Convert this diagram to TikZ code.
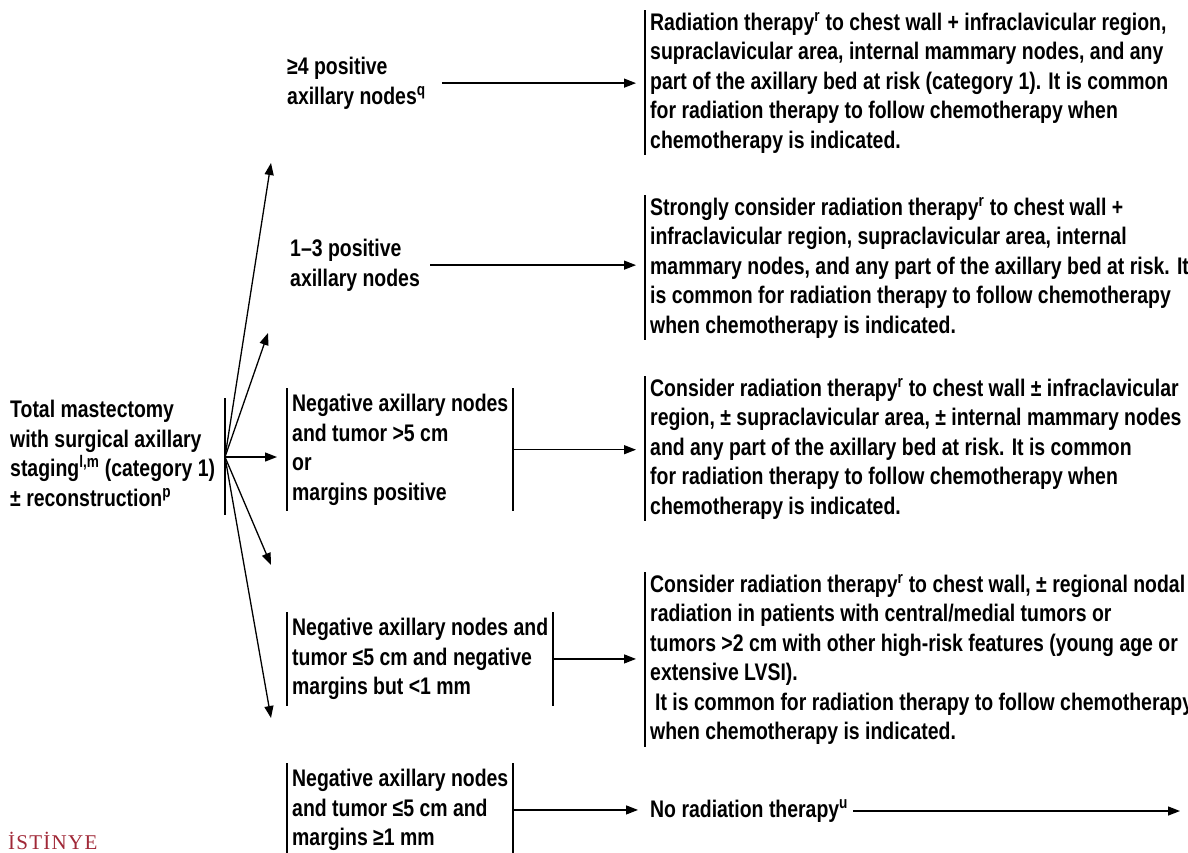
\documentclass[tikz,border=0pt]{standalone}
\usepackage{fontspec}
\newfontfamily\nb[FakeStretch=0.81]{Liberation Sans}
\newfontfamily\istfont[LetterSpace=6]{Liberation Serif}
\usetikzlibrary{arrows.meta,calc}
\definecolor{brand}{RGB}{160,40,55}
\begin{document}
\begin{tikzpicture}[x=1pt,y=-1pt,
  txt/.style={font=\nb\bfseries\fontsize{24}{29.5}\selectfont, align=left, inner sep=0pt, anchor=north west},
  rbox/.style={txt, inner xsep=5pt, inner ysep=2pt},
  mbox/.style={txt, inner xsep=5pt, inner ysep=6pt},
  bar/.style={line width=1.3pt},
  arr/.style={line width=1.3pt, -{Triangle[length=12pt,width=9pt]}}
]
\useasboundingbox (0,0) rectangle (1188,852);

% root
\node[txt] (root) at (10,400) {Total mastectomy\\with surgical axillary\\staging\textsuperscript{l,m} (category 1)\\± reconstruction\textsuperscript{p}};
\coordinate (bartop) at (225,398);
\coordinate (barbot) at (225,515);
\draw[bar] (bartop) -- (barbot);
\coordinate (fan) at (225,457);

% fan tips
\coordinate (t1) at (271,163);
\coordinate (t2) at (268,333);
\coordinate (t4) at (271,565);
\coordinate (t5) at (271,718);

% middle column
\node[txt] (n1) at (287,57) {≥4 positive\\axillary nodes\textsuperscript{q}};
\node[txt] (n2) at (290,239) {1–3 positive\\axillary nodes};
\node[mbox] (m3) at (287,388) {Negative axillary nodes\\and tumor >5 cm\\or\\margins positive};
\node[mbox] (m4) at (287,612) {Negative axillary nodes and\\tumor ≤5 cm and negative\\margins but <1 mm};
\node[mbox] (m5) at (287,763) {Negative axillary nodes\\and tumor ≤5 cm and\\margins ≥1 mm};
\coordinate (m3r) at (513,0);
\coordinate (m4r) at (553,0);
\coordinate (m5r) at (513,0);
\foreach \m in {m3,m4,m5}{
  \draw[bar] (\m.north west) -- (\m.south west);
  \draw[bar] (\m.north west -| \m r) -- (\m.south west -| \m r);
}

% right column
\node[rbox] (r1) at (645,10) {Radiation therapy\textsuperscript{r} to chest wall + infraclavicular region,\\supraclavicular area, internal mammary nodes, and any\\part of the axillary bed at risk (category 1). It is common\\for radiation therapy to follow chemotherapy when\\chemotherapy is indicated.};
\node[rbox] (r2) at (645,195) {Strongly consider radiation therapy\textsuperscript{r} to chest wall +\\infraclavicular region, supraclavicular area, internal\\mammary nodes, and any part of the axillary bed at risk. It\\is common for radiation therapy to follow chemotherapy\\when chemotherapy is indicated.};
\node[rbox] (r3) at (645,376) {Consider radiation therapy\textsuperscript{r} to chest wall ± infraclavicular\\region, ± supraclavicular area, ± internal mammary nodes\\and any part of the axillary bed at risk. It is common\\for radiation therapy to follow chemotherapy when\\chemotherapy is indicated.};
\node[rbox] (r4) at (645,572) {Consider radiation therapy\textsuperscript{r} to chest wall, ± regional nodal\\radiation in patients with central/medial tumors or\\tumors >2 cm with other high-risk features (young age or\\extensive LVSI).\\\hspace*{5pt}It is common for radiation therapy to follow chemotherapy\\when chemotherapy is indicated.};
\node[txt, anchor=west] (r5) at (650,811) {No radiation therapy\textsuperscript{u}};
\foreach \r in {r1,r2,r3,r4}{
  \draw[bar] (\r.north west) -- (\r.south west);
}
\coordinate (e5) at (1180,811);

% logo
\node[font=\istfont\fontsize{21}{21}\selectfont, text=brand, anchor=base west, inner sep=0pt] (logo) at (8,849) {İSTİNYE};

% connectors
\draw[arr] (fan) -- (t1);
\draw[arr] (fan) -- (t2);
\draw[arr] (fan) -- ([xshift=-10pt]m3.west |- fan);
\draw[arr] (fan) -- (t4);
\draw[arr] (fan) -- (t5);
\draw[arr] ([xshift=16pt]n1.east) -- ([xshift=-9pt]r1.west |- n1.east);
\draw[arr] ([xshift=10pt]n2.east) -- ([xshift=-9pt]r2.west |- n2.east);
\draw[arr] (m3.east -| m3r) -- ([xshift=-9pt]r3.west |- m3.east);
\draw[arr] (m4.east -| m4r) -- ([xshift=-9pt]r4.west |- m4.east);
\draw[arr] (m5.east -| m5r) -- ([xshift=-12pt]r5.west |- m5.east);
\draw[arr] ([xshift=5pt]r5.east) -- (e5);
\end{tikzpicture}
\end{document}
